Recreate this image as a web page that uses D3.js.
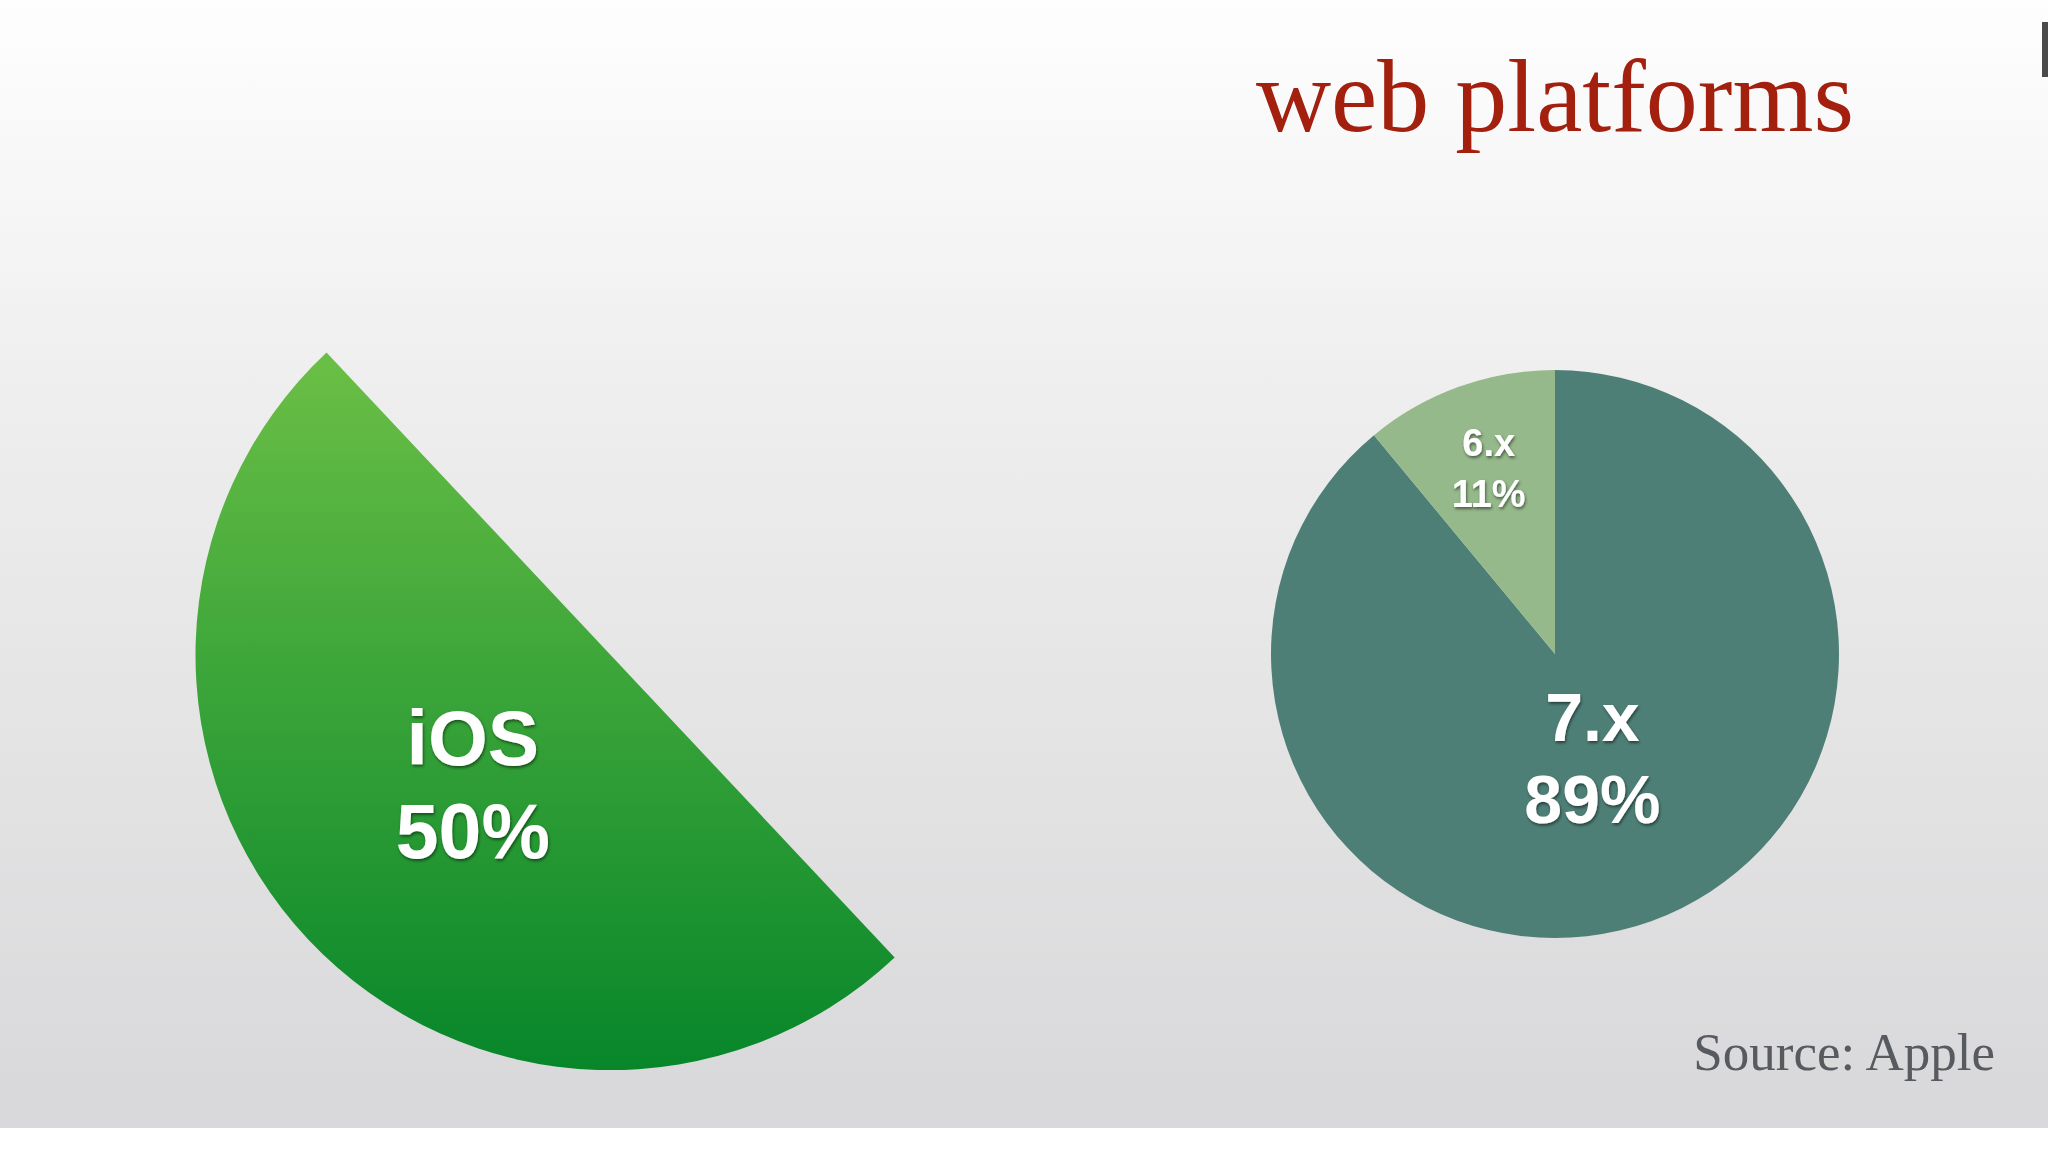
<!DOCTYPE html>
<html>
<head>
<meta charset="utf-8">
<script src="https://cdn.jsdelivr.net/npm/d3@7"></script>
<style>
  html, body { margin: 0; padding: 0; background: #ffffff; }
  svg { display: block; }
</style>
</head>
<body>
<script>
// ---- data ----
const title = "web platforms";
const source = "Source: Apple";
const platformCategories = ["iOS", "Other"];
const platformValues = [50, 50];
const versionCategories = ["7.x", "6.x"];
const versionValues = [89, 11];

const W = 2048, H = 1152;
const svg = d3.select("body").append("svg").attr("width", W).attr("height", H);
const defs = svg.append("defs");

// background gradient
const bg = defs.append("linearGradient").attr("id", "bg").attr("x1", 0).attr("y1", 0).attr("x2", 0).attr("y2", 1);
bg.append("stop").attr("offset", "0%").attr("stop-color", "#fefefe");
bg.append("stop").attr("offset", "35%").attr("stop-color", "#eeeeee");
bg.append("stop").attr("offset", "100%").attr("stop-color", "#d8d8da");
svg.append("rect").attr("x", 0).attr("y", 0).attr("width", W).attr("height", 1128).attr("fill", "url(#bg)");
svg.append("rect").attr("x", 2042).attr("y", 22).attr("width", 6).attr("height", 55).attr("fill", "#4a4a4a");

const leftC = [610.6, 655], leftR = 415;

// green gradient for iOS slice (coords relative to pie centre)
const gg = defs.append("linearGradient").attr("id", "green").attr("gradientUnits", "userSpaceOnUse")
  .attr("x1", 0).attr("y1", -leftR).attr("x2", 0).attr("y2", leftR);
gg.append("stop").attr("offset", "0%").attr("stop-color", "#7cc84a");
gg.append("stop").attr("offset", "50%").attr("stop-color", "#3fa73a");
gg.append("stop").attr("offset", "100%").attr("stop-color", "#07862a");

// text shadow
const f = defs.append("filter").attr("id", "shadow").attr("x", "-20%").attr("y", "-20%").attr("width", "140%").attr("height", "140%");
f.append("feDropShadow").attr("dx", 1).attr("dy", 2).attr("stdDeviation", 1.5)
  .attr("flood-color", "#000").attr("flood-opacity", 0.5);

// title
svg.append("text").attr("x", 1256).attr("y", 131)
  .attr("font-family", "Liberation Serif, Times New Roman, serif")
  .attr("font-size", 104).attr("fill", "#a3200f").text(title);

// source
svg.append("text").attr("x", 1995).attr("y", 1070).attr("text-anchor", "end")
  .attr("font-family", "Liberation Serif, Times New Roman, serif")
  .attr("font-size", 53).attr("fill", "#575b5f").text(source);

const deg = Math.PI / 180;

// ---- left pie (only the iOS half is shown) ----
const leftPie = d3.pie().sort(null).startAngle(136.8 * deg).endAngle((136.8 + 360) * deg);
const leftData = leftPie(platformValues).map((a, i) => Object.assign(a, { name: platformCategories[i] }));
const leftArc = d3.arc().innerRadius(0).outerRadius(leftR);
const gl = svg.append("g").attr("transform", `translate(${leftC[0]},${leftC[1]})`);
const shown = leftData.filter(d => d.name === "iOS");
gl.selectAll("path").data(shown).join("path")
  .attr("d", leftArc)
  .attr("fill", "url(#green)");

const iosLabelArc = d3.arc().innerRadius(200).outerRadius(200);
shown.forEach(d => {
  const [cx, cy] = iosLabelArc.centroid(d);
  const t = gl.append("text").attr("text-anchor", "middle")
    .attr("font-family", "Liberation Sans, Arial, sans-serif").attr("font-weight", "bold")
    .attr("font-size", 77).attr("fill", "#ffffff").attr("filter", "url(#shadow)");
  t.append("tspan").attr("x", cx + 8).attr("y", cy - 27).text(d.name);
  t.append("tspan").attr("x", cx + 8).attr("y", cy + 66).text(d.value + "%");
});

// ---- right pie ----
const rightC = [1555, 654], rightR = 284;
const rightPie = d3.pie().sort(null);
const rightData = rightPie(versionValues).map((a, i) => Object.assign(a, { name: versionCategories[i] }));
const rightArc = d3.arc().innerRadius(0).outerRadius(rightR);
const colors = d3.scaleOrdinal().domain(versionCategories).range(["#4e7f77", "#95b98a"]);
const gr = svg.append("g").attr("transform", `translate(${rightC[0]},${rightC[1]})`);
gr.selectAll("path").data(rightData).join("path")
  .attr("d", rightArc).attr("fill", d => colors(d.name));

const labelSpec = { "7.x": { r: 134, size: 68, gap: 82, dx: -8, dy: -23, weight: "bold" },
                    "6.x": { r: 184, size: 38, gap: 51, dx: -4, dy: -13, weight: "bold" } };
rightData.forEach(d => {
  const s = labelSpec[d.name];
  const [cx, cy] = d3.arc().innerRadius(s.r).outerRadius(s.r).centroid(d);
  const t = gr.append("text").attr("text-anchor", "middle")
    .attr("font-family", "Liberation Sans, Arial, sans-serif").attr("font-weight", s.weight)
    .attr("font-size", s.size).attr("fill", "#ffffff").attr("filter", "url(#shadow)");
  t.append("tspan").attr("x", cx + s.dx).attr("y", cy + s.dy - s.gap * 0.5 + s.size * 0.36).text(d.name);
  t.append("tspan").attr("x", cx + s.dx).attr("y", cy + s.dy + s.gap * 0.5 + s.size * 0.36).text(d.value + "%");
});
</script>
</body>
</html>
